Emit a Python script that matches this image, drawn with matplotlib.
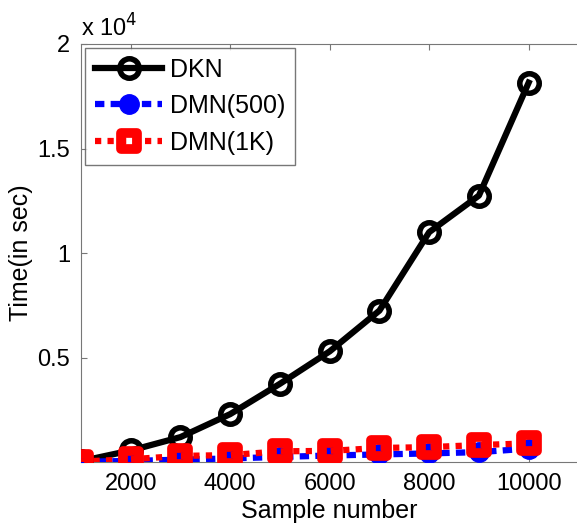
import matplotlib.pyplot as plt
import numpy as np
from matplotlib.markers import MarkerStyle

plt.rcParams['font.family'] = ['Liberation Sans', 'DejaVu Sans']

# Datos
samples = np.array([1000, 2000, 3000, 4000, 5000, 6000, 7000, 8000, 9000, 10000])
dkn = np.array([50, 560, 1200, 2300, 3750, 5300, 7250, 11000, 12750, 18150])
dmn_500 = np.array([20, 60, 120, 180, 250, 320, 370, 420, 480, 650])
dmn_1k = np.array([30, 140, 300, 340, 520, 540, 680, 720, 820, 900])

fig = plt.figure(figsize=(5.77, 5.31), dpi=100)
ax = fig.add_axes([0.1404, 0.1296, 0.862, 0.7876])

ax.plot(samples, dkn, '-o', color='black', linewidth=4.5, markersize=14,
        markerfacecolor='none', markeredgewidth=4, label='DKN', zorder=3)
ax.plot(samples, dmn_500, '--o', color='blue', linewidth=4.5, markersize=14,
        markerfacecolor='blue', dashes=(1.5, 1), label='DMN(500)', zorder=4)
ax.plot(samples, dmn_1k, ':', color='red', linewidth=4.5,
        marker=MarkerStyle('s', joinstyle='round'), markersize=12,
        markerfacecolor='none', markeredgewidth=7, dashes=(1, 1),
        label='DMN(1K)', zorder=5)

ax.set_xlim(1000, 11000)
ax.set_ylim(0, 20000)
ax.set_xticks([2000, 4000, 6000, 8000, 10000])
ax.set_yticks([0, 5000, 10000, 15000, 20000])
ax.set_yticklabels(['', '0.5', '1', '1.5', '2'])
ax.text(0.0, 1.005, r'x 10$^4$', transform=ax.transAxes, fontsize=17,
        ha='left', va='bottom')

ax.tick_params(direction='in', labelsize=17, length=4, color='#777777',
               top=True, pad=8)
for s in ['left', 'bottom', 'top']:
    ax.spines[s].set_color('#777777')
ax.spines['right'].set_visible(False)

ax.set_xlabel('Sample number', fontsize=18, labelpad=3)
ax.set_ylabel('Time(in sec)', fontsize=18, labelpad=3)

leg = ax.legend(loc='upper left', fontsize=18, frameon=True, fancybox=False,
                borderaxespad=0.15, handlelength=2.7, labelspacing=0.5,
                borderpad=0.4, handletextpad=0.3)
leg.get_frame().set_edgecolor('#555555')
leg.get_frame().set_linewidth(1)

fig.savefig('out.png', dpi=100)
